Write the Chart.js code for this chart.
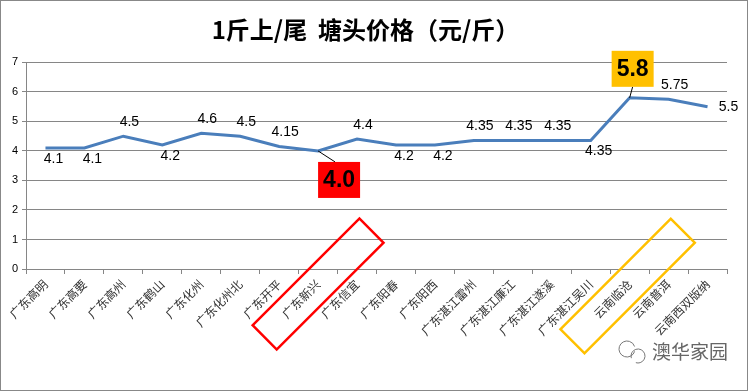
<!DOCTYPE html>
<html>
<head>
<meta charset="utf-8">
<script src="https://cdn.jsdelivr.net/npm/chart.js@4"></script>
<style>
  body { margin: 0; background: #fff; }
  canvas { display: block; }
</style>
</head>
<body>
<canvas id="priceChart" width="748" height="391"></canvas>
<script>
var places = ['广东高明', '广东高要', '广东高州', '广东鹤山', '广东化州', '广东化州北', '广东开平', '广东新兴', '广东信宜',
  '广东阳春', '广东阳西', '广东湛江雷州', '广东湛江廉江', '广东湛江遂溪', '广东湛江吴川', '云南临沧', '云南普洱', '云南西双版纳'];
var prices = [4.1, 4.1, 4.5, 4.2, 4.6, 4.5, 4.15, 4.0, 4.4, 4.2, 4.2, 4.35, 4.35, 4.35, 4.35, 5.8, 5.75, 5.5];
var priceText = ['4.1', '4.1', '4.5', '4.2', '4.6', '4.5', '4.15', '4.0', '4.4', '4.2', '4.2', '4.35', '4.35', '4.35', '4.35', '5.8', '5.75', '5.5'];
// where each value label sits: above / below / right of its point, or a callout box
var labelSide = ['below', 'below', 'above', 'below', 'above', 'above', 'above', 'red', 'above', 'below', 'below',
  'above', 'above', 'above', 'below', 'gold', 'above', 'right'];
var yTicks = [0, 1, 2, 3, 4, 5, 6, 7];
var circled = [7, 15]; // 广东新兴, 云南临沧

var labelsPlugin = {
  id: 'valueLabels',
  afterDatasetsDraw: function(chart) {
    var ctx = chart.ctx;
    var pts = chart.getDatasetMeta(0).data;
    ctx.save();
    ctx.textAlign = 'center';
    ctx.textBaseline = 'middle';
    pts.forEach(function(p, i) {
      var side = labelSide[i];
      ctx.fillStyle = '#000';
      ctx.font = '14px "Liberation Sans", sans-serif';
      if (side === 'above') {
        ctx.fillText(priceText[i], p.x + 6, p.y - 14);
      } else if (side === 'below') {
        ctx.fillText(priceText[i], p.x + 8, p.y + 11);
      } else if (side === 'right') {
        ctx.fillText(priceText[i], p.x + 21, p.y);
      } else {
        var bx, by, col;
        if (side === 'red') { bx = p.x + 21; by = p.y + 29; col = '#ff0000'; }
        else { bx = p.x + 3; by = p.y - 29; col = '#ffc000'; }
        // leader line
        ctx.strokeStyle = '#000';
        ctx.lineWidth = 1;
        ctx.beginPath();
        ctx.moveTo(p.x, p.y);
        if (side === 'red') ctx.lineTo(bx - 4, by - 18);
        else ctx.lineTo(bx, by + 18);
        ctx.stroke();
        ctx.fillStyle = col;
        ctx.fillRect(bx - 21, by - 18, 42, 36);
        ctx.fillStyle = '#000';
        ctx.font = 'bold 23px "Liberation Sans", sans-serif';
        ctx.fillText(priceText[i], bx, by + 1);
      }
    });
    ctx.restore();
  },
  afterDraw: function(chart) {
    var ctx = chart.ctx;
    var xs = chart.scales.x;
    var bottom = chart.chartArea.bottom;
    ctx.save();
    // rotated frames around two category labels
    var frames = [
      { dx: 0, dy: 15, len: 151, col: '#ff0000' },
      { dx: -2, dy: 17, len: 156, col: '#ffc000' }
    ];
    circled.forEach(function(idx, k) {
      var f = frames[k];
      var cx = xs.getPixelForValue(idx) + f.dx;
      var cy = bottom + f.dy;
      ctx.save();
      ctx.translate(cx, cy);
      ctx.rotate(-Math.PI / 4);
      ctx.strokeStyle = f.col;
      ctx.lineWidth = 2.5;
      ctx.strokeRect(-f.len / 2, -17, f.len, 34);
      ctx.restore();
    });
    // watermark
    ctx.strokeStyle = '#777';
    ctx.lineWidth = 1;
    ctx.beginPath();
    ctx.arc(627, 349, 8, 0.3, Math.PI * 1.9);
    ctx.stroke();
    ctx.beginPath();
    ctx.arc(638, 356, 7, Math.PI * 0.9, Math.PI * 2.6);
    ctx.stroke();
    ctx.fillStyle = '#666';
    ctx.font = '19px "Noto Sans CJK SC", sans-serif';
    ctx.textAlign = 'left';
    ctx.textBaseline = 'middle';
    ctx.fillText('澳华家园', 652, 352);
    // outer frame
    ctx.strokeStyle = '#888';
    ctx.lineWidth = 1;
    ctx.strokeRect(0.5, 0.5, chart.width - 1, chart.height - 1);
    ctx.restore();
  }
};

var ctx = document.getElementById('priceChart').getContext('2d');
var priceChart = new Chart(ctx, {
  type: 'line',
  data: {
    labels: places,
    datasets: [{
      label: '塘头价格',
      data: prices,
      borderColor: '#4a7ebb',
      borderWidth: 3,
      pointRadius: 0,
      tension: 0,
      fill: false
    }]
  },
  options: {
    responsive: false,
    animation: false,
    layout: { padding: { left: 4, right: 21, top: 0, bottom: 0 } },
    plugins: {
      legend: { display: false },
      tooltip: { enabled: false },
      title: {
        display: true,
        text: '1斤上/尾  塘头价格（元/斤）',
        color: '#000',
        font: { size: 24, weight: 'bold', family: '"Noto Sans CJK SC", sans-serif' },
        padding: { top: 15, bottom: 18.6 }
      }
    },
    scales: {
      x: {
        offset: true,
        grid: { offset: true, drawOnChartArea: false, tickLength: 5, color: '#868686' },
        border: { color: '#868686' },
        ticks: {
          minRotation: 45,
          maxRotation: 45,
          color: '#333',
          font: { size: 12, family: '"Noto Sans CJK SC", sans-serif' }
        },
        afterFit: function(scale) { scale.height = 122; }
      },
      y: {
        min: 0,
        max: 7,
        afterBuildTicks: function(scale) {
          scale.ticks = yTicks.map(function(v) { return { value: v }; });
        },
        grid: { color: '#868686', tickLength: 4 },
        border: { color: '#868686' },
        ticks: {
          color: '#000',
          padding: 4,
          font: { size: 11, family: '"Liberation Sans", sans-serif' }
        },
        afterFit: function(scale) { scale.width = 22; }
      }
    }
  },
  plugins: [labelsPlugin]
});
</script>
</body>
</html>
